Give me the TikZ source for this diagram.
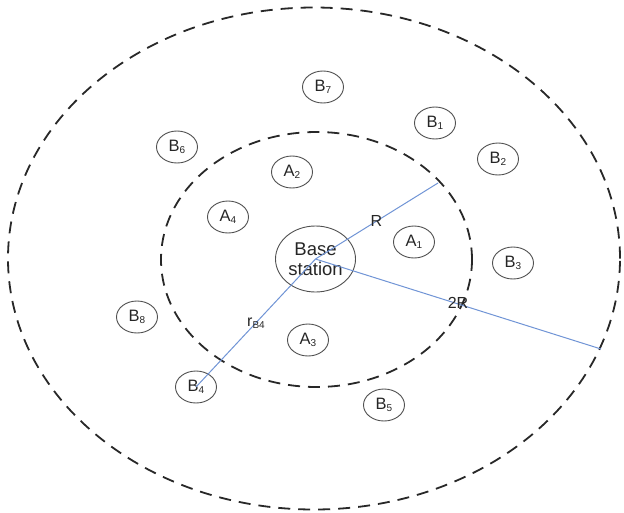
\documentclass[tikz,border=0pt]{standalone}
\usepackage{fontspec}
\setmainfont{Liberation Sans}
\usetikzlibrary{shapes.geometric}
\definecolor{ringgray}{RGB}{40,40,40}
\definecolor{nodegray}{RGB}{80,80,80}
\definecolor{linkblue}{RGB}{112,148,214}
\newcommand{\lowidx}[1]{\raisebox{-0.3ex}{\fontsize{10}{10}\selectfont #1}}
\tikzset{
  ring/.style={draw=ringgray, line width=1.8pt, dash pattern=on 12pt off 8pt},
  user/.style={ellipse, draw=nodegray, line width=0.9pt, minimum width=41pt,
    minimum height=32pt, inner sep=0pt, font=\fontsize{16.5}{16.5}\selectfont, text=black!85},
  basest/.style={ellipse, draw=nodegray, line width=0.9pt, minimum width=80pt,
    minimum height=66pt, inner sep=0pt, align=center,
    font=\fontsize{18.5}{20.5}\selectfont, text=black!85},
  link/.style={draw=linkblue, line width=1pt},
  lbl/.style={font=\fontsize{16}{16}\selectfont, text=black!85, inner sep=1pt}
}
\begin{document}
\begin{tikzpicture}[x=1pt, y=-1pt]
\useasboundingbox (0,0) rectangle (624,512);
\fill[white] (0,0) rectangle (624,512);

% coverage rings
\draw[ring] (314,258.5) ellipse [x radius=306pt, y radius=251pt];
\draw[ring] (316.5,259.5) ellipse [x radius=155.5pt, y radius=127.5pt];

% base station and users
\node[basest] (bs) at (315.5,259) {Base\\station};
\node[user] (a1) at (414,242) {A\lowidx{1}};
\node[user] (a2) at (292,172) {A\lowidx{2}};
\node[user] (a3) at (308,340) {A\lowidx{3}};
\node[user] (a4) at (228,217) {A\lowidx{4}};
\node[user] (b1) at (435,123) {B\lowidx{1}};
\node[user] (b2) at (498,159) {B\lowidx{2}};
\node[user] (b3) at (513,263) {B\lowidx{3}};
\node[user] (b4) at (196,387) {B\lowidx{4}};
\node[user] (b5) at (384,405) {B\lowidx{5}};
\node[user] (b6) at (177,147) {B\lowidx{6}};
\node[user] (b7) at (323,87) {B\lowidx{7}};
\node[user] (b8) at (137,317) {B\lowidx{8}};

% radii
\coordinate (rin) at (438,183);
\coordinate (rout) at (601,349);
\draw[link] (bs.center) -- (rin);
\draw[link] (bs.center) -- (rout);
\draw[link] (bs.center) -- (b4.center);

\node[lbl] (lr) at (376.5,221) {R};
\node[lbl] (l2r) at (458,303) {2R};
\node[lbl] (lrb) at (256,323) {r\lowidx{B4}};
\end{tikzpicture}
\end{document}
